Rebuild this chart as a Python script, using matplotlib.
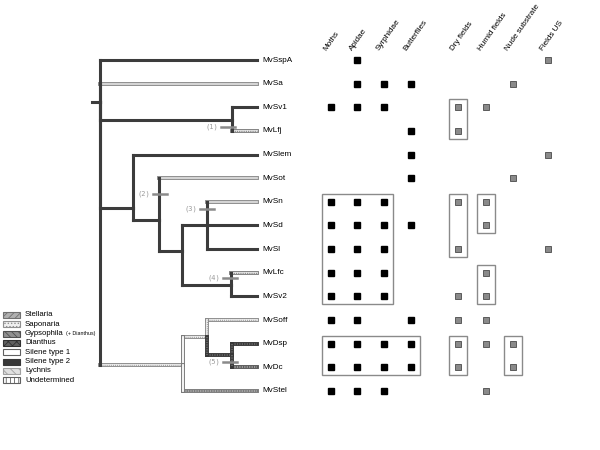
import matplotlib.pyplot as plt
from matplotlib.patches import Rectangle

plt.rcParams['font.family'] = ['Liberation Sans Narrow', 'Liberation Sans', 'DejaVu Sans']
plt.rcParams['hatch.linewidth'] = 0.6

# taxa (top to bottom) and traits
taxa = ['MvSspA', 'MvSa', 'MvSv1', 'MvLfj', 'MvSlem', 'MvSot', 'MvSn', 'MvSd',
        'MvSl', 'MvLfc', 'MvSv2', 'MvSoff', 'MvDsp', 'MvDc', 'MvStel']
pollinators = ['Moths', 'Apidae', 'Syrphidae', 'Butterflies']
habitats = ['Dry fields', 'Humid fields', 'Nude substrate', 'Fields US']

# presence of pollinators / habitats per taxon (column indices)
pollinator_hits = {
    'MvSspA': [1], 'MvSa': [1, 2, 3], 'MvSv1': [0, 1, 2], 'MvLfj': [3],
    'MvSlem': [3], 'MvSot': [3], 'MvSn': [0, 1, 2], 'MvSd': [0, 1, 2, 3],
    'MvSl': [0, 1, 2], 'MvLfc': [0, 1, 2], 'MvSv2': [0, 1, 2],
    'MvSoff': [0, 1, 3], 'MvDsp': [0, 1, 2, 3], 'MvDc': [0, 1, 2, 3],
    'MvStel': [0, 1, 2],
}
habitat_hits = {
    'MvSspA': [3], 'MvSa': [2], 'MvSv1': [0, 1], 'MvLfj': [0],
    'MvSlem': [3], 'MvSot': [2], 'MvSn': [0, 1], 'MvSd': [1],
    'MvSl': [0, 3], 'MvLfc': [1], 'MvSv2': [0, 1],
    'MvSoff': [0, 1], 'MvDsp': [0, 1, 2], 'MvDc': [0, 2],
    'MvStel': [1],
}
# grouping boxes: (first col, last col, first taxon, last taxon), cols 0-7
boxes = [(4, 4, 'MvSv1', 'MvLfj'), (0, 2, 'MvSn', 'MvSv2'), (4, 4, 'MvSn', 'MvSl'),
         (5, 5, 'MvSn', 'MvSd'), (5, 5, 'MvLfc', 'MvSv2'), (0, 3, 'MvDsp', 'MvDc'),
         (4, 4, 'MvDsp', 'MvDc'), (6, 6, 'MvDsp', 'MvDc')]

# tree: node -> (depth, attach row, children)
nodes = {
    'root': (100, 1.78, ['MvSspA', 'MvSa', 'A', 'B', 'G']),
    'A': (232, 2.55, ['MvSv1', 'MvLfj']),
    'B': (133, 6.26, ['MvSlem', 'C']),
    'C': (159, 6.77, ['MvSot', 'D']),
    'D': (182, 8.08, ['E', 'F']),
    'E': (207, 7.0, ['MvSn', 'MvSd', 'MvSl']),
    'F': (231, 9.5, ['MvLfc', 'MvSv2']),
    'G': (183, 12.9, ['H', 'MvStel']),
    'H': (207, 11.72, ['MvSoff', 'I']),
    'I': (232, 12.48, ['MvDsp', 'MvDc']),
}
tip_depth = 257
# (vertical style, horizontal style) of the branch leading to each child
branch_style = {
    'MvSspA': ('dark', 'dark'), 'MvSa': ('dark', 'light'), 'A': ('dark', 'dark'),
    'B': ('dark', 'dark'), 'G': ('dark', 'undet'),
    'MvSv1': ('dark', 'dark'), 'MvLfj': ('dark', 'sapo'),
    'MvSlem': ('dark', 'dark'), 'C': ('dark', 'dark'),
    'MvSot': ('dark', 'light'), 'D': ('dark', 'dark'),
    'E': ('dark', 'dark'), 'F': ('dark', 'dark'),
    'MvSn': ('dark', 'light'), 'MvSd': ('dark', 'dark'), 'MvSl': ('dark', 'dark'),
    'MvLfc': ('dark', 'sapo'), 'MvSv2': ('dark', 'dark'),
    'H': ('sil1', 'undet'), 'MvStel': ('sil1', 'stel'),
    'MvSoff': ('undet', 'undet'), 'I': ('dian', 'dian'),
    'MvDsp': ('dian', 'dian'), 'MvDc': ('dian', 'gyps'),
}
# numbered events: label, depth, row
events = [('(1)', 228, 2.83), ('(2)', 160, 5.67), ('(3)', 207, 6.3),
          ('(4)', 230, 9.22), ('(5)', 230, 12.77)]

legend_names = ['Stellaria', 'Saponaria', 'Gypsophila', 'Dianthus',
                'Silene type 1', 'Silene type 2', 'Lychnis', 'Undetermined']
legend_look = [('#b0b0b0', '#707070', '/////'), ('#f0f0f0', '#909090', '.....'),
               ('#909090', '#505050', '\\\\\\\\\\'), ('#606060', '#303030', 'xxxx'),
               ('white', '#606060', None), ('#383838', '#383838', None),
               ('#e0e0e0', '#a0a0a0', '\\\\\\\\'), ('white', '#606060', '||||')]

line_layers = {
    'dark': [('#3c3c3c', 2.2, '-')],
    'light': [('#8c8c8c', 2.8, '-'), ('#dcdcdc', 1.3, '-')],
    'sapo': [('#808080', 2.8, '-'), ('#f0f0f0', 1.3, '-'), ('#8c8c8c', 1.0, (0, (0.8, 0.8)))],
    'undet': [('#8c8c8c', 2.8, '-'), ('#f6f6f6', 1.3, '-'), ('#9a9a9a', 1.0, (0, (0.6, 0.9)))],
    'sil1': [('#7a7a7a', 2.8, '-'), ('white', 1.3, '-')],
    'dian': [('#383838', 2.8, '-'), ('#707070', 1.1, (0, (0.8, 0.8)))],
    'gyps': [('#5a5a5a', 2.8, '-'), ('#b0b0b0', 1.1, (0, (0.8, 0.8)))],
    'stel': [('#7a7a7a', 2.8, '-'), ('#b4b4b4', 1.1, (0, (0.8, 0.8)))],
}

col_x = [331, 357, 384, 411, 458, 486, 513, 548]
y0, dy = 60, 23.64


def row_y(r):
    return y0 + dy * r


fig = plt.figure(figsize=(6, 4.5), dpi=100)
ax = fig.add_axes([0, 0, 1, 1])
ax.set_xlim(0, 600)
ax.set_ylim(450, 0)
ax.axis('off')


def seg(xs, ys, style):
    for c, lw, ls in line_layers[style]:
        ax.plot(xs, ys, color=c, lw=lw, ls=ls, solid_capstyle='projecting',
                dash_capstyle='butt')


def pos(name):
    if name in nodes:
        return nodes[name][0], nodes[name][1]
    return tip_depth, taxa.index(name)


horiz, vert = [], []
for name, (x, yr, kids) in nodes.items():
    for k in kids:
        kx, kr = pos(k)
        vs, hs = branch_style[k]
        horiz.append(([x, kx], [row_y(kr)] * 2, hs))
        vert.append(([x, x], [row_y(yr), row_y(kr)], vs))
for xs, ys, st in horiz:
    seg(xs, ys, st)
for xs, ys, st in vert:
    seg(xs, ys, st)
# root stub
ax.plot([92, 100], [row_y(nodes['root'][1])] * 2, color='#3c3c3c', lw=2.2)

for lab, x, r in events:
    ax.plot([x - 7, x + 7], [row_y(r)] * 2, color='#8a8a8a', lw=1.8)
    ax.text(x - 10, row_y(r), lab, ha='right', va='center', fontsize=5,
            color='#9a9a9a', family='DejaVu Sans Mono')

for i, t in enumerate(taxa):
    ax.text(262, row_y(i), t, ha='left', va='center', fontsize=5.9)
    for c in pollinator_hits[t]:
        ax.plot(col_x[c], row_y(i), 's', ms=4.2, color='black')
    for c in habitat_hits[t]:
        ax.plot(col_x[4 + c], row_y(i), 's', ms=4.2, mfc='#8a8a8a', mec='#4a4a4a', mew=0.6)

for c0, c1, t0, t1 in boxes:
    x0 = col_x[c0] - 9
    y_top = row_y(taxa.index(t0)) - 8
    ax.add_patch(Rectangle((x0, y_top), col_x[c1] + 9 - x0,
                           row_y(taxa.index(t1)) + 8 - y_top,
                           fill=False, ec='#8a8a8a', lw=1.0))

for x, lab in zip(col_x, pollinators + habitats):
    ax.text(x - 3, 52, lab, rotation=55, rotation_mode='anchor', ha='left',
            va='bottom', fontsize=5.9)

for j, (lab, (fc, ec, hatch)) in enumerate(zip(legend_names, legend_look)):
    yy = 315 + 9.3 * j
    ax.add_patch(Rectangle((3, yy - 3), 17, 6, fc=fc, ec=ec, hatch=hatch, lw=0.8))
    t = ax.text(25, yy, lab, ha='left', va='center', fontsize=5.6)
    if lab == 'Gypsophila':
        ax.annotate('(+ Dianthus)', xy=(1, 0.5), xycoords=t, xytext=(1.5, 0),
                    textcoords='offset points', ha='left', va='center', fontsize=3.8)

fig.savefig('out.png', dpi=100)
